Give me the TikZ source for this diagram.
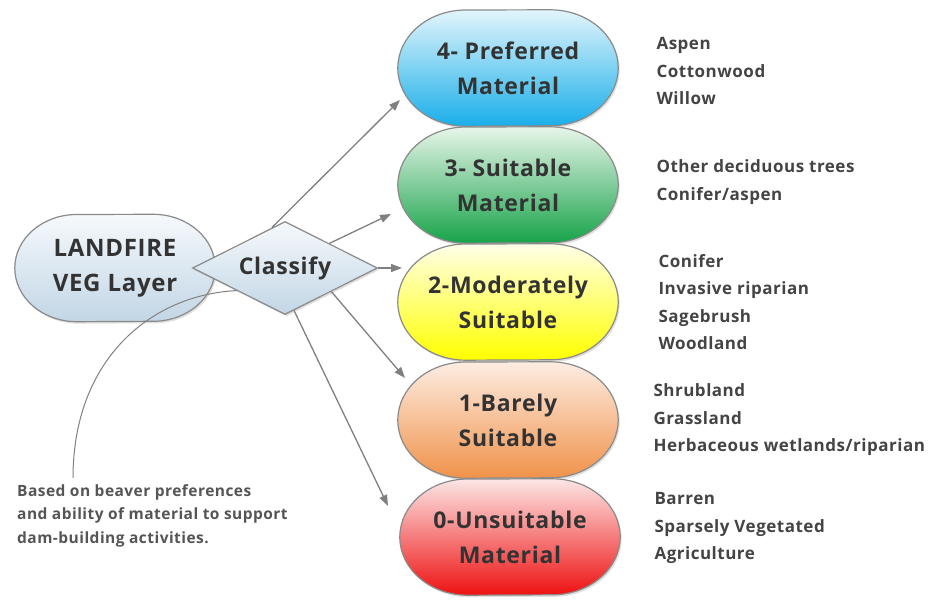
\documentclass[tikz,border=0pt]{standalone}
\usepackage{fontspec}
\setmainfont{Open Sans}[LetterSpace=3]
\usetikzlibrary{shapes.geometric,arrows.meta,shadows,backgrounds}
\definecolor{txt}{HTML}{333333}
\definecolor{listtxt}{HTML}{444444}
\definecolor{notetxt}{HTML}{555555}
\definecolor{bord}{HTML}{8A8A8A}
\definecolor{arr}{HTML}{808080}
\definecolor{srcTop}{HTML}{F6F9FC}
\definecolor{srcBot}{HTML}{C2D6E5}
\definecolor{blueTop}{HTML}{E2F5FC}
\definecolor{blueBot}{HTML}{19AEE9}
\definecolor{greenTop}{HTML}{E8F5EA}
\definecolor{greenBot}{HTML}{17A349}
\definecolor{yelTop}{HTML}{FFFFE8}
\definecolor{yelBot}{HTML}{FFFF00}
\definecolor{orTop}{HTML}{FDEDE3}
\definecolor{orBot}{HTML}{F0924A}
\definecolor{redTop}{HTML}{FDE6E6}
\definecolor{redBot}{HTML}{EE1111}
% elliptical-cornered capsule drawn behind a named node
\newcommand\capshape[5]{% node, top colour, bottom colour, x radius, y radius
  \shade[top color=#2, bottom color=#3, draw=bord, line width=1.2pt,
    drop shadow={opacity=0.25, shadow xshift=1.5pt, shadow yshift=-2pt}]
    (#1.west) arc[start angle=180, end angle=90, x radius=#4, y radius=#5]
    -- ([xshift=-#4]#1.north east)
    arc[start angle=90, end angle=-90, x radius=#4, y radius=#5]
    -- ([xshift=#4]#1.south west)
    arc[start angle=270, end angle=180, x radius=#4, y radius=#5] -- cycle;}
\begin{document}
\begin{tikzpicture}[x=1pt,y=-1pt,
  capsule/.style={rectangle, minimum width=220pt, minimum height=116pt, inner sep=0pt,
    text=txt, align=center, font=\bfseries\fontsize{23}{35}\selectfont},
  arrowline/.style={draw=arr, line width=1.3pt, -{Triangle[length=11pt,width=8pt]}},
  listtext/.style={anchor=west, align=left, text=listtxt,
    font=\bfseries\fontsize{17}{27.5}\selectfont},
]
\useasboundingbox (0,0) rectangle (932,601);

% left source node
\node[capsule, minimum width=200pt, minimum height=107pt,
  font=\bfseries\fontsize{24}{35}\selectfont]
  (src) at (115,268) {LANDFIRE\\VEG Layer};

% category nodes
\node[capsule] (c4) at (508,68) {4- Preferred\\Material};
\node[capsule] (c3) at (508,185) {3- Suitable\\Material};
\node[capsule] (c2) at (508,302) {2-Moderately\\Suitable};
\node[capsule] (c1) at (508,420) {1-Barely\\Suitable};
\node[capsule] (c0) at (510,537) {0-Unsuitable\\Material};

\begin{scope}[on background layer]
  \capshape{src}{srcTop}{srcBot}{62pt}{53.5pt}
  \capshape{c4}{blueTop}{blueBot}{68pt}{58pt}
  \capshape{c3}{greenTop}{greenBot}{68pt}{58pt}
  \capshape{c2}{yelTop}{yelBot}{68pt}{58pt}
  \capshape{c1}{orTop}{orBot}{68pt}{58pt}
  \capshape{c0}{redTop}{redBot}{68pt}{58pt}
\end{scope}

% arrow tips (free ends)
\coordinate (t4) at (400,100);
\coordinate (t3) at (391,214);
\coordinate (t2) at (402,268);
\coordinate (t1) at (405,378);
\coordinate (t0) at (388,506);

% diamond
\node[diamond, aspect=2, minimum width=185pt, minimum height=93pt, inner sep=0pt,
  draw=bord, line width=1.2pt, top color=srcTop, bottom color=srcBot, text=txt,
  font=\bfseries\fontsize{23}{30}\selectfont,
  drop shadow={opacity=0.25, shadow xshift=1.5pt, shadow yshift=-2pt}]
  (dia) at (285,268) {Classify};

\draw[arrowline] (dia.108) -- (t4);
\draw[arrowline] (dia.29) -- (t3);
\draw[arrowline] (dia.east) -- (t2);
\draw[arrowline] (dia.-27) -- (t1);
\draw[arrowline] (dia.-78) -- (t0);

% lists
\node[listtext] (l4) at (653,71) {Aspen\\Cottonwood\\Willow};
\node[listtext] (l3) at (653,182) {Other deciduous trees\\Conifer/aspen};
\node[listtext] (l2) at (655,302) {Conifer\\Invasive riparian\\Sagebrush\\Woodland};
\node[listtext] (l1) at (650,420) {Shrubland\\Grassland\\Herbaceous wetlands/riparian};
\node[listtext] (l0) at (651,528) {Barren\\Sparsely Vegetated\\Agriculture};

% annotation
\node[anchor=north west, align=left, text=notetxt, inner sep=0pt,
  font=\bfseries\fontsize{15.5}{23.5}\selectfont] (note) at (17,484)
  {Based on beaver preferences\\and ability of material to support\\dam-building activities.};
\coordinate (nstart) at (73,478);
\draw[draw=arr, line width=1pt] (dia.205) .. controls (150,295) and (73,360) .. (nstart);
\end{tikzpicture}
\end{document}
